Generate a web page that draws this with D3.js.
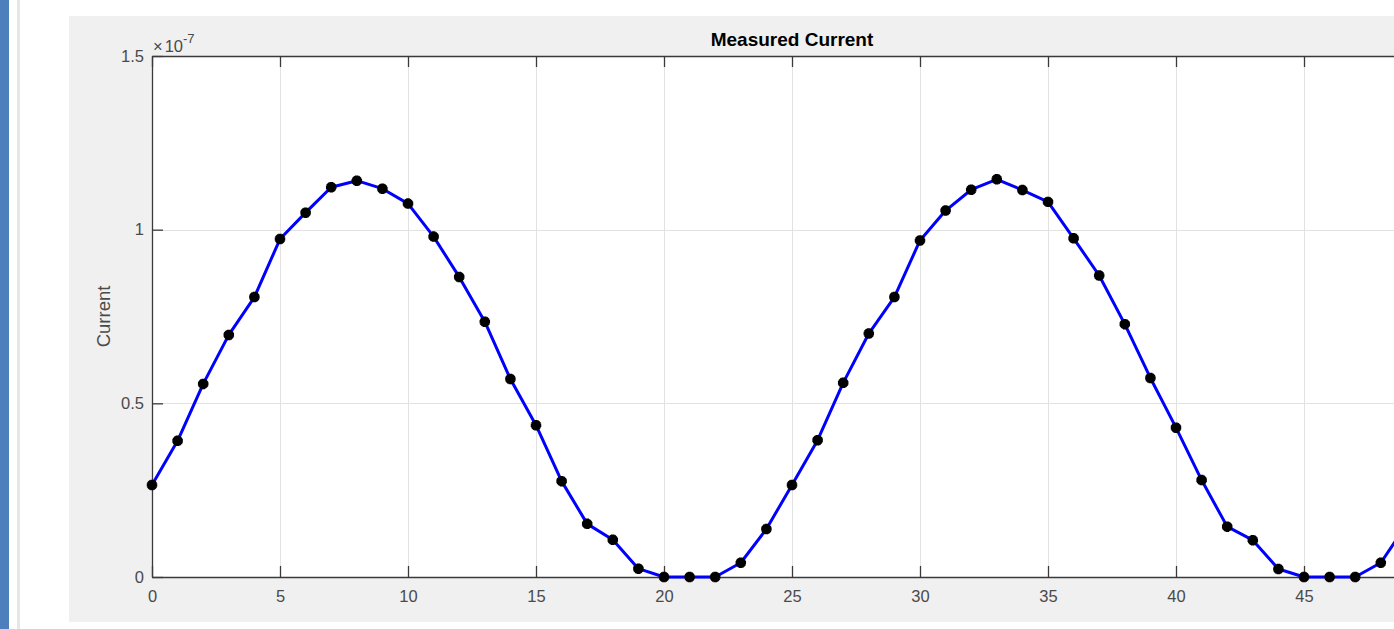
<!DOCTYPE html>
<html>
<head>
<meta charset="utf-8">
<script src="https://cdn.jsdelivr.net/npm/d3@7"></script>
<style>
  html, body { margin: 0; padding: 0; background: #fff; overflow: hidden; }
  svg { display: block; font-family: "Liberation Sans", Arial, Helvetica, sans-serif; }
</style>
</head>
<body>
<script>
// sample index and measured current (mantissa, x 10^-7)
const samples = [0, 1, 2, 3, 4, 5, 6, 7, 8, 9, 10, 11, 12, 13, 14, 15, 16, 17, 18, 19, 20,
  21, 22, 23, 24, 25, 26, 27, 28, 29, 30, 31, 32, 33, 34, 35, 36, 37, 38, 39, 40,
  41, 42, 43, 44, 45, 46, 47, 48, 49, 50];
const current = [0.265, 0.392, 0.556, 0.697, 0.806, 0.973, 1.049, 1.122, 1.141, 1.118, 1.075,
  0.980, 0.864, 0.735, 0.570, 0.437, 0.276, 0.153, 0.107, 0.024, 0,
  0, 0, 0.041, 0.138, 0.265, 0.394, 0.559, 0.701, 0.806, 0.969,
  1.055, 1.115, 1.145, 1.114, 1.080, 0.975, 0.868, 0.728, 0.573, 0.430,
  0.279, 0.145, 0.106, 0.023, 0, 0, 0, 0.041, 0.150, 0.265];
const EXPONENT = -7;
// tick at 50 falls outside the window, so it is left out
const xTicks = [0, 5, 10, 15, 20, 25, 30, 35, 40, 45];
const yTicks = [0, 0.5, 1, 1.5];
const title = 'Measured Current';
const yLabel = 'Current';

const width = 1394;
const height = 629;
const margin = { left: 152, top: 56, right: 1432, bottom: 577 };
const axisColor = '#3a3a3a';
const labelColor = '#4a4a4a';

const points = samples.map((s, i) => ({ x: s, y: current[i] * Math.pow(10, EXPONENT) }));

const x = d3.scaleLinear()
  .domain([0, 50])
  .range([margin.left, margin.right])
;
const y = d3.scaleLinear()
  .domain([0, 1.5 * Math.pow(10, EXPONENT)])
  .range([margin.bottom, margin.top])
;

const svg = d3.select('body').append('svg')
  .attr('width', width)
  .attr('height', height)
;

// window chrome on the left
svg.append('rect')
  .attr('x', 0).attr('y', 0)
  .attr('width', 9).attr('height', height)
  .attr('fill', '#4c7fbc')
;
svg.append('rect')
  .attr('x', 17).attr('y', 0)
  .attr('width', 3).attr('height', height)
  .attr('fill', '#e6e6e6')
;

// figure background
svg.append('rect')
  .attr('x', 69).attr('y', 16)
  .attr('width', width - 69).attr('height', 606)
  .attr('fill', '#f0f0f0')
;
svg.append('rect')
  .attr('x', margin.left).attr('y', margin.top)
  .attr('width', margin.right - margin.left)
  .attr('height', margin.bottom - margin.top)
  .attr('fill', '#fff')
;

// grid
const grid = svg.append('g').attr('class', 'grid')
  .attr('stroke', '#e2e2e2')
  .attr('stroke-width', 1)
;
grid.selectAll('.gx')
  .data(xTicks.slice(1))
  .enter().append('line')
  .attr('x1', d => Math.round(x(d)) + 0.5)
  .attr('x2', d => Math.round(x(d)) + 0.5)
  .attr('y1', margin.top)
  .attr('y2', margin.bottom)
;
grid.selectAll('.gy')
  .data(yTicks.slice(1, -1))
  .enter().append('line')
  .attr('x1', margin.left)
  .attr('x2', margin.right)
  .attr('y1', d => Math.round(y(d * Math.pow(10, EXPONENT))) + 0.5)
  .attr('y2', d => Math.round(y(d * Math.pow(10, EXPONENT))) + 0.5)
;

// axes, ticks pointing inward
const yFmt = d => d3.format('~g')(+(d / Math.pow(10, EXPONENT)).toFixed(3));

const xAxis = d3.axisBottom(x)
  .tickValues(xTicks)
  .tickFormat(d3.format('d'))
  .tickSizeInner(-11)
  .tickSizeOuter(0)
  .tickPadding(13)
;
const xAxisTop = d3.axisTop(x)
  .tickValues(xTicks)
  .tickFormat('')
  .tickSizeInner(-11)
  .tickSizeOuter(0)
;
const yAxis = d3.axisLeft(y)
  .tickValues(yTicks.map(v => v * Math.pow(10, EXPONENT)))
  .tickFormat(yFmt)
  .tickSizeInner(-11)
  .tickSizeOuter(0)
  .tickPadding(8)
;

function styleAxis(g) {
  g.select('.domain').attr('stroke', axisColor).attr('stroke-width', 1.3);
  g.selectAll('.tick line').attr('stroke', axisColor).attr('stroke-width', 1.3);
  g.selectAll('.tick text')
    .attr('fill', labelColor)
    .style('font-size', '16.5px')
    .style('font-family', '"Liberation Sans", Arial, sans-serif')
  ;
}

svg.append('g')
  .attr('transform', `translate(0,${margin.bottom})`)
  .call(xAxis)
  .call(styleAxis)
;
svg.append('g')
  .attr('transform', `translate(0,${margin.top})`)
  .call(xAxisTop)
  .call(styleAxis)
;
svg.append('g')
  .attr('transform', `translate(${margin.left},0)`)
  .call(yAxis)
  .call(styleAxis)
;

// exponent label
const expLabel = svg.append('text')
  .attr('x', margin.left + 1)
  .attr('y', 52)
  .attr('fill', labelColor)
  .style('font-size', '16.5px')
;
expLabel.append('tspan').text('\u00d7');
expLabel.append('tspan').attr('dx', 2).text('10');
expLabel.append('tspan')
  .attr('dy', -9)
  .style('font-size', '13px')
  .text(String(EXPONENT))
;

// title and y label
svg.append('text')
  .attr('x', (margin.left + margin.right) / 2)
  .attr('y', 46)
  .attr('text-anchor', 'middle')
  .attr('fill', '#000')
  .style('font-size', '19px')
  .style('font-weight', 'bold')
  .text(title)
;
svg.append('text')
  .attr('transform', `translate(110,${(margin.top + margin.bottom) / 2}) rotate(-90)`)
  .attr('text-anchor', 'middle')
  .attr('fill', labelColor)
  .style('font-size', '18.5px')
  .text(yLabel)
;

// data line
const line = d3.line()
  .x(d => x(d.x))
  .y(d => y(d.y))
;
svg.append('path')
  .datum(points)
  .attr('fill', 'none')
  .attr('stroke', '#0000ff')
  .attr('stroke-width', 3)
  .attr('stroke-linejoin', 'round')
  .attr('d', line)
;

// asterisk markers like matlab's '*'
const asterisk = {
  draw(context, size) {
    const r = Math.sqrt(size) / 2;
    const d = r * Math.SQRT1_2;
    context.moveTo(-r, 0); context.lineTo(r, 0);
    context.moveTo(0, -r); context.lineTo(0, r);
    context.moveTo(-d, -d); context.lineTo(d, d);
    context.moveTo(-d, d); context.lineTo(d, -d);
  }
};
svg.append('g')
  .selectAll('.marker')
  .data(points)
  .enter().append('path')
  .attr('class', 'marker')
  .attr('transform', d => `translate(${x(d.x)},${y(d.y)})`)
  .attr('d', d3.symbol().type(asterisk).size(110))
  .attr('fill', 'none')
  .attr('stroke', '#000')
  .attr('stroke-width', 3.6)
;
</script>
</body>
</html>
